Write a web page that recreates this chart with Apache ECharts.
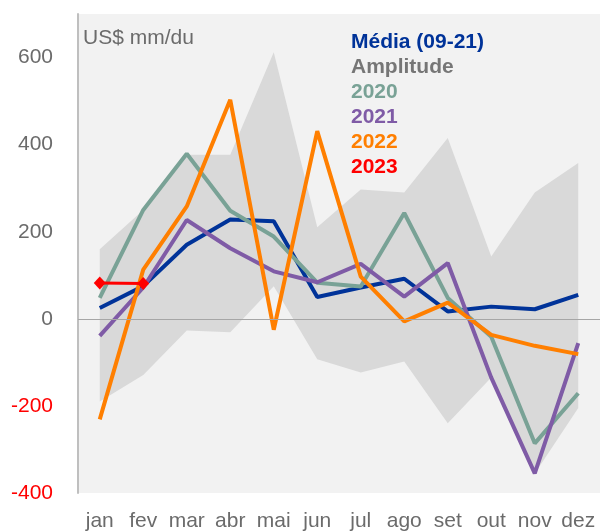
<!DOCTYPE html>
<html>
<head>
<meta charset="utf-8">
<script src="https://cdn.jsdelivr.net/npm/echarts@6/dist/echarts.min.js"></script>
<style>
  html, body { margin: 0; padding: 0; background: #fff; }
  #chart { width: 610px; height: 532px; }
</style>
</head>
<body>
<div id="chart"></div>
<script>
const months = ['jan', 'fev', 'mar', 'abr', 'mai', 'jun', 'jul', 'ago', 'set', 'out', 'nov', 'dez']
const media = [25, 75, 170, 228, 224, 50, 72, 92, 17, 28, 22, 55]
const ampMin = [-190, -129, -27, -31, 75, -93, -123, -98, -240, -135, -355, -205]
const ampMax = [160, 250, 377, 377, 612, 210, 297, 290, 415, 143, 290, 358]
const y2020 = [48, 250, 379, 248, 189, 83, 74, 243, 48, -41, -286, -171]
const y2021 = [-39, 72, 227, 162, 109, 84, 126, 51, 128, -135, -355, -56]
const y2022 = [-231, 113, 258, 503, -25, 431, 97, -6, 37, -37, -62, -81]
const y2023 = [82, 81]

const yTicks = { min: -400, max: 700, interval: 200 }
const font = 'Liberation Sans, Arial, sans-serif'

const colors = {
  media: '#003399',
  amp: '#767676',
  y2020: '#79a296',
  y2021: '#7f5ba6',
  y2022: '#ff7f00',
  y2023: '#ff0000'
}

const chart = echarts.init(document.getElementById('chart'))

const lineSeries = (name, data, color, z) => ({
  name: name,
  type: 'line',
  data: data,
  symbol: 'none',
  z: z,
  lineStyle: { width: 4, color: color },
  itemStyle: { color: color }
})

const option = {
  animation: false,
  textStyle: { fontFamily: font },
  grid: {
    left: 78,
    right: 10,
    top: 14,
    bottom: 38,
    show: true,
    backgroundColor: '#f2f2f2',
    borderWidth: 0
  },
  legend: {
    orient: 'vertical',
    left: 345,
    top: 30,
    padding: 0,
    itemGap: 0,
    itemWidth: 0,
    itemHeight: 0,
    selectedMode: false,
    itemStyle: { opacity: 0 },
    lineStyle: { opacity: 0 },
    textStyle: { fontSize: 21, fontWeight: 'bold', lineHeight: 25, fontFamily: font },
    data: [
      { name: 'Média (09-21)', textStyle: { color: colors.media } },
      { name: 'Amplitude', textStyle: { color: colors.amp } },
      { name: '2020', textStyle: { color: colors.y2020 } },
      { name: '2021', textStyle: { color: colors.y2021 } },
      { name: '2022', textStyle: { color: colors.y2022 } },
      { name: '2023', textStyle: { color: colors.y2023 } }
    ]
  },
  xAxis: {
    type: 'category',
    data: months,
    boundaryGap: true,
    axisLine: { show: false, onZero: false },
    axisTick: { show: false },
    axisLabel: { color: '#6b6b6b', fontSize: 21, margin: 18, interval: 0, fontFamily: font }
  },
  yAxis: {
    type: 'value',
    min: yTicks.min,
    max: yTicks.max,
    interval: yTicks.interval,
    name: 'US$ mm/du',
    nameLocation: 'end',
    nameGap: -24,
    nameTextStyle: {
      color: '#6b6b6b',
      fontSize: 21,
      align: 'left',
      verticalAlign: 'middle',
      padding: [0, 0, 0, 5],
      fontFamily: font
    },
    axisLine: { show: true, lineStyle: { color: '#bfbfbf', width: 2 } },
    axisTick: { show: false },
    splitLine: { show: false },
    axisLabel: {
      fontSize: 21,
      margin: 25,
      fontFamily: font,
      formatter: v => (v > 600 ? '' : v),
      color: v => (Number(v) < 0 ? '#ff0000' : '#6b6b6b')
    }
  },
  series: [
    {
      name: 'ampBase',
      type: 'line',
      data: ampMin,
      stack: 'amp',
      stackStrategy: 'all',
      symbol: 'none',
      lineStyle: { opacity: 0 },
      silent: true,
      z: 1
    },
    {
      name: 'Amplitude',
      type: 'line',
      data: ampMax.map((v, i) => v - ampMin[i]),
      stack: 'amp',
      stackStrategy: 'all',
      symbol: 'none',
      lineStyle: { opacity: 0 },
      itemStyle: { color: '#d9d9d9' },
      areaStyle: { color: '#d9d9d9', opacity: 1 },
      silent: true,
      z: 1,
      markLine: {
        silent: true,
        symbol: 'none',
        label: { show: false },
        lineStyle: { color: '#a6a6a6', width: 1, type: 'solid' },
        data: [{ yAxis: 0 }]
      }
    },
    lineSeries('Média (09-21)', media, colors.media, 3),
    lineSeries('2020', y2020, colors.y2020, 3),
    lineSeries('2021', y2021, colors.y2021, 3),
    lineSeries('2022', y2022, colors.y2022, 3),
    {
      name: '2023',
      type: 'line',
      data: y2023,
      symbol: 'diamond',
      symbolSize: [12, 13],
      z: 4,
      lineStyle: { width: 3, color: colors.y2023 },
      itemStyle: { color: colors.y2023 }
    }
  ]
}

chart.setOption(option)
</script>
</body>
</html>
